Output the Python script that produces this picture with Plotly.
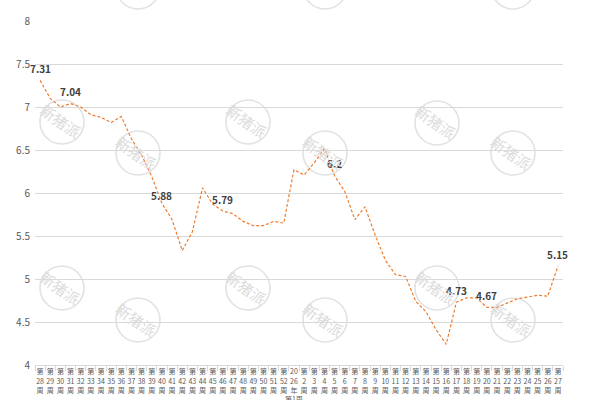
import plotly.graph_objects as go

# ---- data ----
weeks_a = [f"第{i}周" for i in range(28, 53)]
weeks_b = ["2026年第1周"] + [f"第{i}周" for i in range(2, 28)]
categories = weeks_a + weeks_b

values = [7.31, 7.10, 7.00, 7.04, 7.00, 6.91, 6.88, 6.82, 6.89, 6.63,
          6.44, 6.19, 5.88, 5.69, 5.33, 5.55, 6.06, 5.87, 5.79, 5.76,
          5.67, 5.62, 5.62, 5.67, 5.65, 6.27, 6.21, 6.35, 6.52, 6.20,
          6.02, 5.69, 5.84, 5.51, 5.22, 5.05, 5.03, 4.74, 4.62, 4.41,
          4.24, 4.73, 4.78, 4.78, 4.67, 4.67, 4.72, 4.77, 4.79, 4.81,
          4.80, 5.15]

labeled_idx = [0, 3, 12, 18, 29, 41, 44, 51]

y_ticks = [4, 4.5, 5, 5.5, 6, 6.5, 7, 7.5, 8]


def stack_label(s):
    # emulate vertical (stacked) East Asian text
    if s.startswith("2026"):
        return "20<br>26<br>年<br>第1周"
    num = s[1:-1]
    return f"第<br>{num}<br>周"


ticktext = [stack_label(c) for c in categories]

FONT = "Noto Sans CJK SC"

fig = go.Figure()
fig.add_trace(go.Scatter(
    x=categories, y=values, mode="lines",
    line=dict(color="#ED7D31", width=1.2, dash="3px,2px"),
    hoverinfo="skip", showlegend=False,
))

# data labels
for i in labeled_idx:
    v = values[i]
    txt = f"{v:g}"
    fig.add_annotation(
        x=categories[i], y=v, text=f"<b>{txt}</b>", showarrow=False,
        yshift=12 if i != 12 else 8,
        font=dict(family=FONT, size=10, color="#404040"),
    )

# watermarks (pixel positions in the 600x400 canvas)
L, R, T, B = 35, 563, 21, 365
marks = [(62, 122), (62, 288), (138, -13), (138, 153), (138, 320),
         (248, 122), (248, 288), (325, -13), (325, 153), (325, 320),
         (437, 123), (437, 288), (513, -13), (513, 153), (513, 320)]
rad = 22


def fx(p):
    return (p - L) / (R - L)


def fy(p):
    return (B - p) / (B - T)


for (px, py) in marks:
    fig.add_shape(type="circle", xref="paper", yref="paper",
                  x0=fx(px - rad), x1=fx(px + rad),
                  y0=fy(py + rad), y1=fy(py - rad),
                  line=dict(color="#e2e2e2", width=1.6), layer="below")
    if py > 0:
        fig.add_annotation(xref="paper", yref="paper", x=fx(px - 2), y=fy(py - 1),
                           xanchor="center", yanchor="middle",
                           text="新猪派", showarrow=False, textangle=35,
                           font=dict(family=FONT, size=15, color="#dcdcdc"))

fig.update_layout(
    width=600, height=400,
    margin=dict(l=L, r=600 - R, t=T, b=400 - B, autoexpand=False),
    paper_bgcolor="white", plot_bgcolor="white",
    font=dict(family=FONT, color="#595959"),
    xaxis=dict(
        type="category", tickmode="array", tickvals=categories, ticktext=ticktext,
        tickangle=0, tickfont=dict(size=7, color="#595959"), automargin=False,
        showgrid=False, showline=True, linecolor="#d9d9d9", linewidth=1,
        ticks="outside", ticklen=5, tickcolor="#d9d9d9", tickson="boundaries",
        range=[-0.5, len(categories) - 0.5], zeroline=False,
    ),
    yaxis=dict(
        range=[4, 8], tickvals=y_ticks, ticktext=[f"{t:g}" for t in y_ticks],
        showgrid=True, gridcolor="#d9d9d9", gridwidth=1, zeroline=False,
        tickfont=dict(size=10, color="#595959"), ticks="", showline=False,
        ticklabelstandoff=4, automargin=False,
    ),
)

fig.write_html("out.html")
